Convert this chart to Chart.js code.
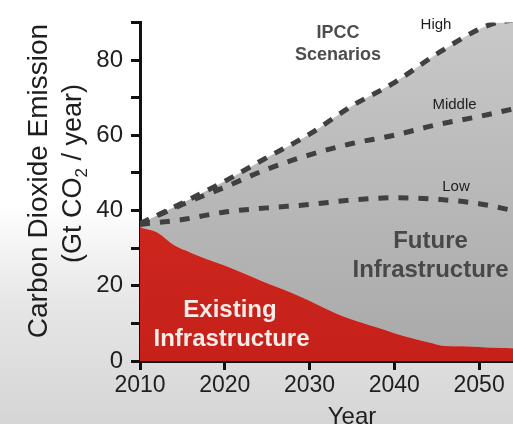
<!DOCTYPE html>
<html><head><meta charset="utf-8">
<script src="https://cdn.jsdelivr.net/npm/chart.js@4"></script>
<style>
html,body{margin:0;padding:0;}
body{width:513px;height:424px;overflow:hidden;background:linear-gradient(180deg,#fff 0%,#fff 48%,#e6e6e6 72%,#d5d5d5 100%);}
#wrap{position:relative;width:513px;height:424px;}
</style></head><body><div id="wrap"><canvas id="c"></canvas></div>
<script>
// ---- data ----
const existingYears  = [2010,2012,2014,2016,2018,2020,2022,2024,2026,2028,2030,2032,2034,2036,2038,2040,2042,2044,2046,2048,2050,2052,2054];
const existingValues = [35.5,34.2,30.8,28.8,27.0,25.4,23.5,21.6,19.8,18.0,16.0,13.8,11.8,10.3,8.9,7.4,6.1,5.0,4.0,3.9,3.7,3.5,3.4];

const highYears  = [2010,2015,2020,2025,2030,2035,2040,2045,2050,2052,2054];
const highValues = [36.5,42.0,47.8,54.1,60.3,67.8,74.0,81.6,88.2,89.9,90.6];

const middleYears  = [2010,2015,2020,2025,2030,2035,2040,2045,2050,2054];
const middleValues = [36.5,41.6,46.2,51.0,54.8,57.8,60.0,62.8,65.0,67.0];

const lowYears  = [2010,2015,2020,2025,2030,2035,2040,2045,2050,2054];
const lowValues = [36.3,37.6,39.6,40.7,41.6,42.8,43.4,43.0,41.8,40.0];

const xTickLabels = [2010,2020,2030,2040,2050];
const yTickLabels = [0,20,40,60,80];

const FONT = '"Liberation Sans", Arial, Helvetica, sans-serif';
const pts = (xs, ys) => xs.map((x, i) => ({x, y: ys[i]}));

function vGrad(ctx, top, bottom) {
  const chart = ctx.chart;
  const a = chart.chartArea;
  if (!a) return top;
  const g = chart.ctx.createLinearGradient(0, a.top, 0, a.bottom);
  g.addColorStop(0, top);
  g.addColorStop(1, bottom);
  return g;
}

const textPlugin = {
  id: 'texts',
  afterDatasetsDraw(chart) {
    const ctx = chart.ctx;
    function t(str, x, cy, size, weight, color) {
      ctx.font = weight + ' ' + size + 'px ' + FONT;
      ctx.fillStyle = color;
      ctx.textAlign = 'center';
      ctx.textBaseline = 'alphabetic';
      ctx.fillText(str, x, cy + size * 0.358);
    }
    ctx.save();
    t('IPCC', 338, 31.5, 18, 'bold', '#4d4d4d');
    t('Scenarios', 338, 54, 18, 'bold', '#4d4d4d');
    t('High', 436, 24, 15, 'normal', '#1e1e1e');
    t('Middle', 454.5, 104, 15, 'normal', '#1e1e1e');
    t('Low', 456, 186, 15, 'normal', '#1e1e1e');
    t('Future', 430.5, 239, 24, 'bold', '#484848');
    t('Infrastructure', 430.5, 268, 24, 'bold', '#484848');
    t('Existing', 230, 308.5, 24, 'bold', '#f6ece8');
    t('Infrastructure', 231.5, 337, 24, 'bold', '#f6ece8');
    t('Year', 352, 415.5, 24, 'normal', '#1e1e1e');
    ctx.restore();
  },
  afterDraw(chart) {
    const ctx = chart.ctx;
    ctx.save();
    ctx.fillStyle = '#1e1e1e';
    ctx.textBaseline = 'alphabetic';
    ctx.translate(47, 181);
    ctx.rotate(-Math.PI / 2);
    ctx.font = 'normal 28px ' + FONT;
    ctx.textAlign = 'center';
    ctx.fillText('Carbon Dioxide Emission', 0, 0);
    ctx.restore();
    ctx.save();
    ctx.fillStyle = '#1e1e1e';
    ctx.textBaseline = 'alphabetic';
    ctx.textAlign = 'left';
    ctx.translate(81, 173.5);
    ctx.rotate(-Math.PI / 2);
    const big = 'normal 27px ' + FONT, small = 'normal 17px ' + FONT;
    const p1 = '(Gt CO', p2 = '2', p3 = ' / year)';
    ctx.font = big; const w1 = ctx.measureText(p1).width, w3 = ctx.measureText(p3).width;
    ctx.font = small; const w2 = ctx.measureText(p2).width;
    let x = -(w1 + w2 + w3) / 2;
    ctx.font = big; ctx.fillText(p1, x, 0); x += w1;
    ctx.font = small; ctx.fillText(p2, x, 6); x += w2;
    ctx.font = big; ctx.fillText(p3, x, 0);
    ctx.restore();
  }
};

const dashColor = '#404040';

new Chart(document.getElementById('c'), {
  type: 'line',
  data: {
    datasets: [
      {
        label: 'Existing Infrastructure',
        data: pts(existingYears, existingValues),
        borderWidth: 0,
        borderColor: 'rgba(0,0,0,0)',
        backgroundColor: (ctx) => vGrad(ctx, '#d82d22', '#c5211a'),
        fill: 'origin',
        pointRadius: 0,
        cubicInterpolationMode: 'monotone',
        order: 2
      },
      {
        label: 'High',
        data: pts(highYears, highValues),
        borderColor: dashColor,
        borderWidth: 5,
        borderDash: [10, 9],
        backgroundColor: (ctx) => vGrad(ctx, '#c8c8c8', '#a9a9a9'),
        fill: '-1',
        pointRadius: 0,
        cubicInterpolationMode: 'monotone',
        order: 3
      },
      {
        label: 'Middle',
        data: pts(middleYears, middleValues),
        borderColor: dashColor,
        borderWidth: 5,
        borderDash: [10, 10],
        fill: false,
        pointRadius: 0,
        cubicInterpolationMode: 'monotone',
        order: 1
      },
      {
        label: 'Low',
        data: pts(lowYears, lowValues),
        borderColor: dashColor,
        borderWidth: 5,
        borderDash: [10, 10],
        fill: false,
        pointRadius: 0,
        cubicInterpolationMode: 'monotone',
        order: 1
      }
    ]
  },
  options: {
    responsive: true,
    maintainAspectRatio: false,
    animation: false,
    events: [],
    layout: { padding: { top: 20, left: 0, right: 0, bottom: 0 } },
    plugins: { legend: { display: false }, tooltip: { enabled: false } },
    scales: {
      x: {
        type: 'linear',
        min: 2010,
        max: 2054,
        afterFit: (s) => { s.height = 63; },
        border: { display: true, color: '#111', width: 3 },
        grid: { display: true, drawOnChartArea: false, drawTicks: true, tickLength: 9, tickWidth: 3, tickColor: '#111' },
        ticks: {
          stepSize: 10,
          includeBounds: false,
          padding: 2,
          color: '#1e1e1e',
          font: { family: FONT, size: 23 },
          maxRotation: 0,
          autoSkip: false,
          callback: (v) => xTickLabels.includes(v) ? String(v) : null
        }
      },
      y: {
        min: 0,
        max: 90,
        afterFit: (s) => { s.width = 140; },
        border: { display: true, color: '#111', width: 3 },
        grid: { display: true, drawOnChartArea: false, drawTicks: true, tickLength: 9, tickWidth: 3, tickColor: '#111' },
        ticks: {
          stepSize: 10,
          padding: 8,
          color: '#1e1e1e',
          font: { family: FONT, size: 24 },
          autoSkip: false,
          callback: (v) => yTickLabels.includes(v) ? String(v) : ''
        }
      }
    }
  },
  plugins: [textPlugin]
});
</script>
</body></html>
